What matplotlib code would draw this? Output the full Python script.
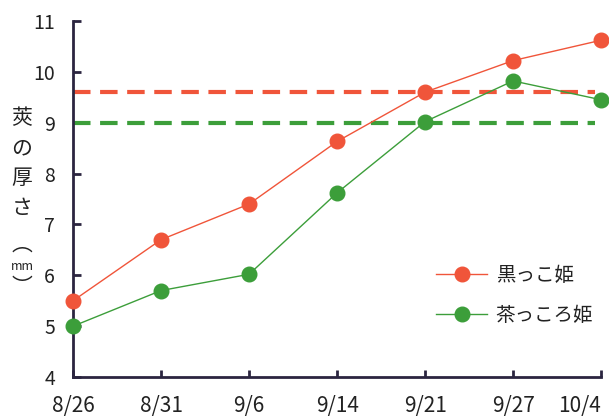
import matplotlib.pyplot as plt

plt.rcParams['font.family'] = ['Noto Sans CJK JP', 'DejaVu Sans']

# データ
dates = ['8/26', '8/31', '9/6', '9/14', '9/21', '9/27', '10/4']
kurokko = [5.5, 6.7, 7.4, 8.63, 9.6, 10.22, 10.62]
chakkoro = [5.0, 5.7, 6.02, 7.62, 9.02, 9.82, 9.45]
kurokko_ref = 9.6
chakkoro_ref = 9.0
names = ['黒っこ姫', '茶っころ姫']

red = '#f0553a'
green = '#3c9e3a'
axis_col = '#2b2540'

fig = plt.figure(figsize=(6.09, 4.18), dpi=100)
ax = fig.add_axes([0.12, 0.098, 0.867, 0.852])

x = list(range(len(dates)))

# 基準線（破線）
ax.plot([0, 5.93], [kurokko_ref] * 2, color=red, lw=3, dashes=(4.2, 2.3))
ax.plot([0, 5.93], [chakkoro_ref] * 2, color=green, lw=3, dashes=(4.2, 2.3))

ax.plot(x, kurokko, color=red, lw=1, marker='o', ms=10.5,
        label=names[0], clip_on=False, zorder=4)
ax.plot(x, chakkoro, color=green, lw=1, marker='o', ms=10.5,
        label=names[1], clip_on=False, zorder=4)

ax.set_xlim(0, 6)
ax.set_ylim(4, 11)
ax.set_xticks(x)
ax.set_xticklabels(dates)
ax.set_yticks(range(4, 12))
ax.get_xticklabels()[-1].set_horizontalalignment('right')

for s in ['top', 'right']:
    ax.spines[s].set_visible(False)
for s in ['left', 'bottom']:
    ax.spines[s].set_color(axis_col)
    ax.spines[s].set_linewidth(2)

ax.tick_params(axis='y', direction='in', length=6, width=2, color=axis_col,
               labelsize=14, pad=13, labelcolor='#222222')
ax.tick_params(axis='x', direction='in', length=5, width=2, color=axis_col,
               labelsize=15, pad=13, labelcolor='#222222')

# 縦書きの軸ラベル
ylab = ['莢', 'の', '厚', 'さ']
for i, ch in enumerate(ylab):
    fig.text(22 / 609, 1 - (118 + i * 30) / 418, ch, fontsize=15,
             ha='center', va='center', color='#222222')
fig.text(22 / 609, 1 - 245 / 418, '︵', fontsize=15, ha='center', va='center', color='#222222')
fig.text(22 / 609, 1 - 266 / 418, 'mm', fontsize=9, ha='center', va='center', color='#222222')
fig.text(22 / 609, 1 - 287 / 418, '︶', fontsize=15, ha='center', va='center', color='#222222')

leg = ax.legend(loc='upper left', bbox_to_anchor=(0.655, 0.365), frameon=False,
                fontsize=14, handlelength=2.6, labelspacing=1.0, handletextpad=0.45)
for t in leg.get_texts():
    t.set_color('#222222')

fig.savefig('out.png', dpi=100)
